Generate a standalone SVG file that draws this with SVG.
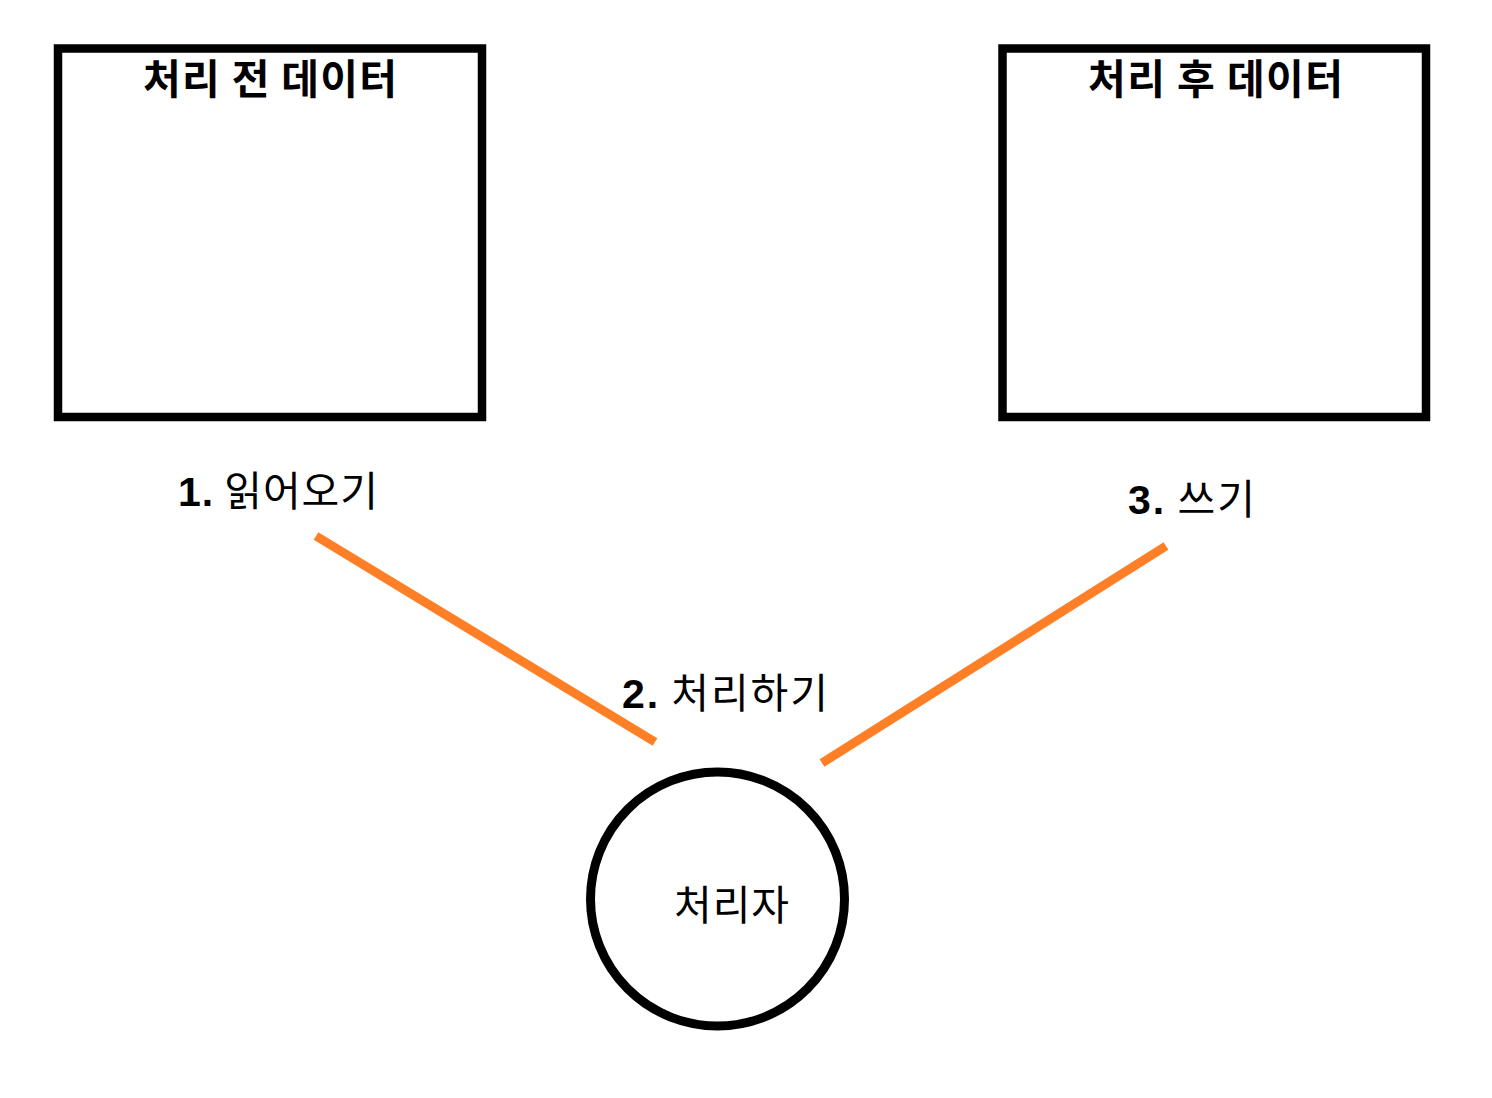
<svg xmlns="http://www.w3.org/2000/svg" width="1492" height="1098" viewBox="0 0 1492 1098">
<style>
.box{fill:#fff;stroke:#000;stroke-width:8.5}
.t{font-family:"Noto Sans CJK KR","Liberation Sans",sans-serif;fill:#000}
.title{font-size:41px;font-weight:bold}
.lbl{font-size:41px}
.num{font-family:"Liberation Sans",sans-serif;font-weight:bold}
.edge{stroke:#FF7F27;stroke-width:9;fill:none}
</style>
<rect width="1492" height="1098" fill="#fff"/>
<g id="before">
<rect class="box" x="58" y="48.5" width="424" height="368.5"/>
<text class="t title" x="143" y="94" textLength="254" lengthAdjust="spacing">처리 전 데이터</text>
</g>
<g id="after">
<rect class="box" x="1002.5" y="48.5" width="423.5" height="368.5"/>
<text class="t title" x="1088" y="94" textLength="255" lengthAdjust="spacing">처리 후 데이터</text>
</g>
<g id="processor">
<circle cx="717.5" cy="899" r="127" fill="#fff" stroke="#000" stroke-width="9"/>
<text class="t lbl" x="674" y="920" textLength="115" lengthAdjust="spacing">처리자</text>
</g>
<g id="connectors">
<line class="edge" x1="316" y1="536" x2="655" y2="742"/>
<line class="edge" x1="1166" y1="546" x2="822" y2="763"/>
</g>
<g id="labels">
<text class="t lbl" x="178" y="506" textLength="200" lengthAdjust="spacing"><tspan class="num">1.</tspan> 읽어오기</text>
<text class="t lbl" x="1128" y="514" textLength="127" lengthAdjust="spacing"><tspan class="num">3.</tspan> 쓰기</text>
<text class="t lbl" x="622" y="708" textLength="206" lengthAdjust="spacing"><tspan class="num">2.</tspan> 처리하기</text>
</g>
</svg>
